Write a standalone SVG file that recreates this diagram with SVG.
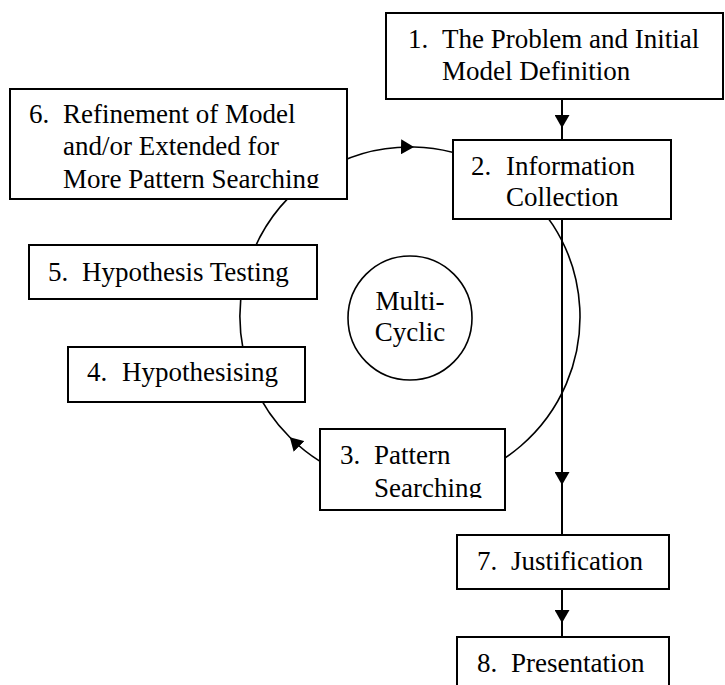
<svg xmlns="http://www.w3.org/2000/svg" width="725" height="685" viewBox="0 0 725 685">
  <style>
    .box { fill: #ffffff; stroke: #000000; stroke-width: 2; }
    .label { font-family: 'Liberation Serif', 'Times New Roman', Times, 'DejaVu Serif', serif; font-size: 27px; fill: #000000; }
    .mid { text-anchor: middle; }
    .flow { fill: none; stroke: #000000; stroke-width: 2; marker-mid: url(#arrow); }
    .cycle { fill: none; stroke: #000000; stroke-width: 1.6; marker-start: url(#arrow); marker-mid: url(#arrow); }
  </style>
  <defs>
    <marker id="arrow" markerUnits="userSpaceOnUse" viewBox="0 0 13 15" refX="13" refY="7.5" markerWidth="13" markerHeight="15" orient="auto">
      <path d="M0,0 L13,7.5 L0,15 Z" fill="#000000"/>
    </marker>
    <clipPath id="clip6"><rect x="10" y="89" width="337" height="99"/></clipPath>
    <clipPath id="clip3"><rect x="320" y="429" width="185" height="69"/></clipPath>
  </defs>

  <rect width="725" height="685" fill="#ffffff"/>

  <!-- connectors -->
  <g id="connectors">
    <!-- the research cycle: 2 -> 3 -> 4 -> 5 -> 6 -> 2 -->
    <path class="cycle" d="M414,147.05 A170,170 0 1 1 289.79,437.21 A170,170 0 0 1 414,147.05"/>
    <!-- main line -->
    <path class="flow" d="M562,99 L562,128 L562,140"/>
    <path class="flow" d="M562,219 L562,485 L562,535"/>
    <path class="flow" d="M562,589 L562,623 L562,637"/>
  </g>

  <g id="node-1" font-family="Liberation Serif, serif">
    <rect class="box" x="386" y="13" width="337" height="86"/>
    <text class="label" x="408" y="48">1.</text>
    <text class="label" x="442" y="48">The Problem and Initial</text>
    <text class="label" x="442" y="80">Model Definition</text>
  </g>

  <g id="node-2">
    <rect class="box" x="453" y="140" width="218" height="79"/>
    <text class="label" x="471" y="175">2.</text>
    <text class="label" x="506" y="175">Information</text>
    <text class="label" x="506" y="206">Collection</text>
  </g>

  <g id="node-6">
    <rect class="box" x="10" y="89" width="337" height="110"/>
    <g clip-path="url(#clip6)">
      <text class="label" x="29" y="123">6.</text>
      <text class="label" x="63" y="123">Refinement of Model</text>
      <text class="label" x="63" y="155">and/or Extended for</text>
      <text class="label" x="63" y="188">More Pattern Searching</text>
    </g>
  </g>

  <g id="node-5">
    <rect class="box" x="29" y="245" width="288" height="54"/>
    <text class="label" x="48" y="281">5.</text>
    <text class="label" x="82" y="281">Hypothesis Testing</text>
  </g>

  <g id="node-4">
    <rect class="box" x="68" y="347" width="237" height="55"/>
    <text class="label" x="87" y="381">4.</text>
    <text class="label" x="122" y="381">Hypothesising</text>
  </g>

  <g id="node-3">
    <rect class="box" x="320" y="429" width="185" height="81"/>
    <g clip-path="url(#clip3)">
      <text class="label" x="340" y="464">3.</text>
      <text class="label" x="374" y="464">Pattern</text>
      <text class="label" x="374" y="497">Searching</text>
    </g>
  </g>

  <g id="node-multicyclic">
    <circle cx="410" cy="318" r="62" fill="#ffffff" stroke="#000000" stroke-width="1.6"/>
    <text class="label mid" x="410" y="310">Multi-</text>
    <text class="label mid" x="410" y="341">Cyclic</text>
  </g>

  <g id="node-7">
    <rect class="box" x="457" y="535" width="212" height="54"/>
    <text class="label" x="477" y="570">7.</text>
    <text class="label" x="511" y="570">Justification</text>
  </g>

  <g id="node-8">
    <rect class="box" x="457" y="637" width="212" height="70"/>
    <text class="label" x="477" y="672">8.</text>
    <text class="label" x="511" y="672">Presentation</text>
  </g>
</svg>
